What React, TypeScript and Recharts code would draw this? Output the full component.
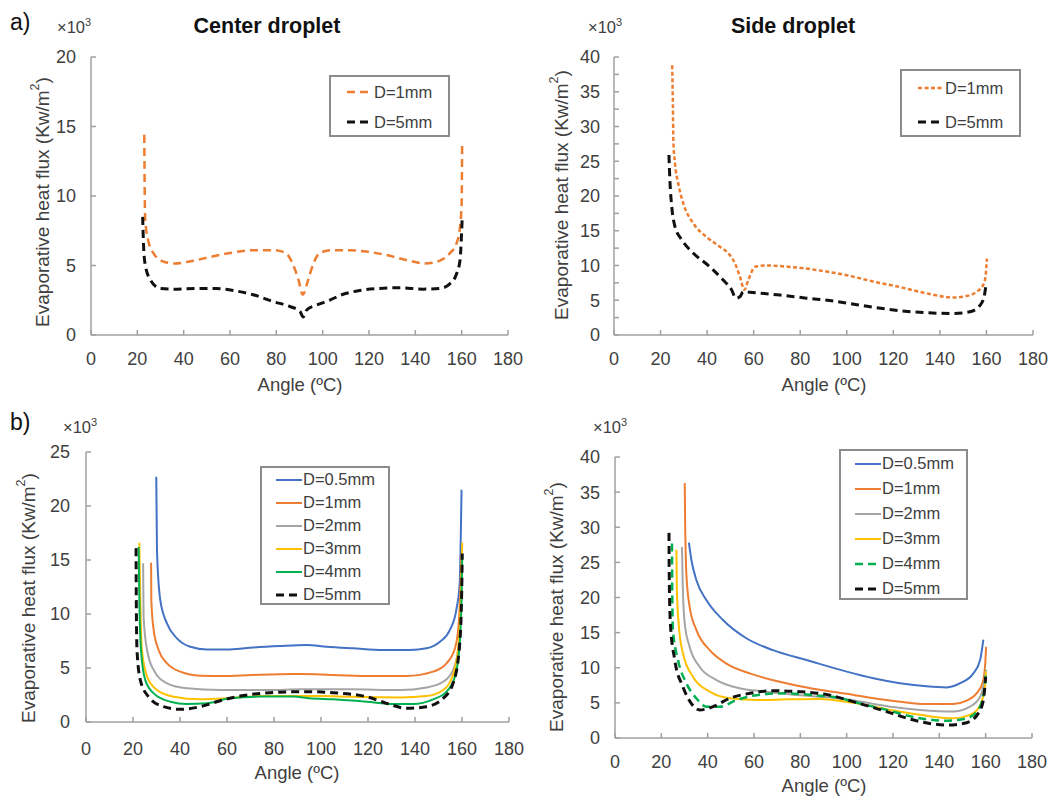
import { LineChart, Line, XAxis, YAxis, Legend } from 'recharts';

type Pt = [number, number];

const FONT = '"Liberation Sans", Arial, sans-serif';
const TEXT = '#404040';
const AXIS = '#a0a0a0';

const ORANGE = '#ED7D31';
const BLUE = '#4472C4';
const GRAY = '#A5A5A5';
const GOLD = '#FFC000';
const GREEN = '#00B050';
const BLACK = '#111111';

const xTicks = [0, 20, 40, 60, 80, 100, 120, 140, 160, 180];
const yTicksCenter = [0, 5, 10, 15, 20];
const yTicksSide = [0, 2.5, 5, 7.5, 10, 12.5, 15, 17.5, 20, 22.5, 25, 27.5, 30, 32.5, 35, 37.5, 40];
const yTicksB1 = [0, 5, 10, 15, 20, 25];
const yTicksB2 = [0, 5, 10, 15, 20, 25, 30, 35, 40];

// a) center droplet
const centerD1: Pt[] = [[23, 14.4], [23.2, 10], [23.4, 8.3], [24.7, 6.8], [26.9, 5.9], [31, 5.3], [36, 5.15], [43, 5.3], [51, 5.6], [60, 5.9], [70, 6.1], [79, 6.1], [84, 5.9], [87, 5.15], [89.5, 4.0], [91.4, 2.9], [93.8, 4.0], [96, 5.15], [98.8, 5.9], [104, 6.1], [112, 6.1], [119, 6.0], [127.6, 5.75], [136, 5.4], [144, 5.15], [150.6, 5.35], [155, 5.9], [157.8, 6.6], [159.3, 7.8], [160, 9.5], [160.2, 13.9]];
const centerD5: Pt[] = [[22.3, 8.5], [22.6, 6.8], [23.3, 5.15], [25.5, 4.0], [29.8, 3.35], [35.5, 3.3], [45, 3.35], [54, 3.35], [61.4, 3.2], [70, 2.9], [78.7, 2.4], [85.9, 2.05], [90.2, 1.7], [91.6, 1.3], [93.1, 1.8], [97.4, 2.15], [103, 2.5], [107.5, 2.85], [116, 3.2], [124.7, 3.35], [133.4, 3.4], [143.4, 3.3], [150.6, 3.35], [155, 3.7], [157.8, 4.4], [159.3, 5.4], [160.2, 8.3]];

// a) side droplet
const sideD1: Pt[] = [[25, 38.8], [25.3, 33], [25.5, 28.1], [26.2, 24.7], [27.6, 21.8], [29.8, 18.9], [34, 16.1], [39.8, 14.1], [45.5, 12.7], [49.8, 11.5], [52, 10.3], [54.1, 8.4], [56, 6.5], [57.7, 7.9], [60.5, 9.8], [65.6, 10.0], [75.6, 9.8], [88, 9.3], [100, 8.6], [111.3, 7.7], [122.8, 6.9], [134.3, 6.0], [145.7, 5.4], [151.4, 5.6], [155.7, 6.2], [158.6, 7.2], [159.6, 8.4], [160.2, 11.0]];
const sideD5: Pt[] = [[23.6, 25.9], [24, 22.3], [24.8, 18.5], [26.2, 15.6], [29.1, 13.7], [34, 11.8], [41.2, 9.8], [46.9, 7.9], [50.5, 6.5], [52.4, 5.3], [54.1, 5.5], [55.5, 6.2], [59.8, 6.1], [71.3, 5.75], [82.7, 5.3], [94.2, 4.9], [100, 4.6], [111.3, 4.0], [122.8, 3.5], [134.3, 3.2], [145.7, 3.1], [152.9, 3.35], [157.1, 4.2], [159, 5.5], [159.7, 6.95]];

// b) center droplet, all diameters
const bcD05: Pt[] = [[29.9, 22.7], [30.2, 15.9], [31.6, 11.3], [34.5, 9.1], [38.7, 7.75], [44.4, 6.97], [51.4, 6.72], [61.3, 6.72], [71.2, 6.9], [82.6, 7.04], [93.9, 7.13], [102.4, 6.97], [113.7, 6.82], [126.5, 6.67], [137.8, 6.67], [144.9, 6.82], [150.6, 7.43], [154.8, 8.5], [157.6, 10.4], [159, 12.8], [159.8, 21.5]];
const bcD1: Pt[] = [[27.7, 14.75], [27.8, 11.3], [28.8, 8.5], [30.9, 6.67], [34.5, 5.43], [40.1, 4.66], [48.6, 4.29], [59.9, 4.26], [74.1, 4.38], [88.2, 4.44], [98, 4.42], [105.2, 4.35], [119.4, 4.26], [136.4, 4.26], [147.7, 4.66], [153.4, 5.43], [157, 6.82], [158.6, 9.1], [159.5, 13.4], [159.8, 15.6]];
const bcD2: Pt[] = [[24.3, 14.7], [24.5, 9.75], [26, 6.67], [28.8, 4.81], [34.5, 3.58], [42.9, 3.12], [57.1, 2.96], [78.3, 2.96], [91.1, 3.03], [112.3, 3.03], [133.6, 2.96], [144.9, 3.2], [152, 3.73], [156.2, 4.81], [158.3, 6.67], [159.5, 10], [160, 14]];
const bcD3: Pt[] = [[22.7, 16.6], [23.1, 11.3], [23.8, 6.67], [26, 4.2], [30.2, 2.96], [37.3, 2.34], [48.6, 2.1], [59.9, 2.19], [74.1, 2.4], [88.2, 2.4], [100, 2.4], [112.3, 2.34], [133.6, 2.28], [144.9, 2.4], [152, 2.96], [155.9, 4.2], [158.3, 6.67], [159.5, 11.3], [160.1, 16.6]];
const bcD4: Pt[] = [[22.4, 16.2], [22.7, 11.3], [23.4, 6.67], [25.2, 3.9], [28.8, 2.65], [35.9, 1.88], [42.9, 1.67], [51.4, 1.73], [61.3, 2.19], [74.1, 2.35], [88.2, 2.35], [95, 2.2], [105.2, 2.1], [119.4, 1.88], [130.7, 1.67], [139.2, 1.67], [147.7, 2.1], [153.4, 2.81], [157, 4.2], [158.8, 6.67], [159.8, 11.3], [160.1, 15.5]];
const bcD5: Pt[] = [[21.3, 16.1], [21.4, 11.3], [21.7, 6.67], [23.1, 3.9], [26.6, 2.34], [33, 1.42], [40.1, 1.17], [48.6, 1.42], [57.1, 1.97], [65.6, 2.4], [78.3, 2.71], [93.9, 2.81], [105.2, 2.71], [119.4, 2.34], [127.9, 1.73], [136.4, 1.27], [144.9, 1.42], [152, 2.19], [156.2, 3.58], [158.8, 6.67], [159.8, 11.3], [160.1, 15.6]];

// b) side droplet, all diameters
const bsD05: Pt[] = [[31.9, 27.8], [33, 25.3], [35.1, 22.5], [39.5, 19.6], [46.6, 16.8], [56.7, 14.2], [68.2, 12.5], [82.7, 11.1], [100, 9.45], [111.5, 8.5], [123, 7.8], [134.5, 7.35], [143.2, 7.2], [149, 7.8], [154.7, 9.2], [157.6, 11.1], [159, 14.0]];
const bsD1: Pt[] = [[30.1, 36.3], [30.3, 30], [30.4, 28.2], [30.8, 23.4], [32.2, 18.7], [35.1, 15.4], [40.9, 12.5], [48.1, 10.6], [58.2, 9.2], [71.1, 8.0], [85.5, 7.0], [100, 6.3], [111.5, 5.65], [123, 5.17], [134.5, 4.84], [146, 4.84], [151.8, 5.31], [156.1, 6.36], [158.6, 7.78], [159.7, 10.1], [160.2, 13.0]];
const bsD2: Pt[] = [[28.9, 27.2], [29.3, 21.1], [30.1, 16.3], [32.2, 13.0], [36.6, 10.1], [43.8, 8.25], [53.8, 7.07], [65.4, 6.6], [79.8, 6.1], [88.4, 5.88], [100, 5.5], [110, 4.94], [120, 4.4], [131.6, 4.0], [146, 3.76], [153.2, 4.46], [157.6, 5.88], [159.7, 8.7], [160, 9.5]];
const bsD3: Pt[] = [[26.5, 26.8], [26.7, 21.1], [27.6, 15.8], [29.3, 12.1], [33.7, 8.7], [40.9, 6.6], [49.5, 5.65], [61.1, 5.4], [75.4, 5.5], [88, 5.55], [102.8, 5.0], [117.2, 4.1], [131.6, 3.3], [146, 2.8], [153.2, 3.3], [157.3, 4.46], [159.7, 7.3], [160.1, 9.5]];
const bsD4: Pt[] = [[24.6, 27.7], [24.7, 21.1], [25, 15.4], [27.2, 11.1], [30.8, 7.8], [35.1, 5.65], [39.5, 4.46], [45.2, 4.46], [52.4, 5.4], [61.1, 6.1], [72.6, 6.36], [85.5, 6.1], [97, 5.7], [102.8, 5.17], [117.2, 4.0], [131.6, 2.8], [143.2, 2.46], [151.8, 2.8], [156.8, 4.0], [159.4, 6.8], [160.2, 9.7]];
const bsD5: Pt[] = [[23.3, 29.2], [23.4, 23.4], [23.9, 16.3], [25.8, 11.1], [29.3, 7.3], [32.9, 4.94], [36.6, 4.0], [42.3, 4.46], [49.5, 5.65], [58.2, 6.36], [68.2, 6.73], [79.8, 6.6], [91.3, 6.2], [102.8, 5.17], [117.2, 3.76], [131.6, 2.33], [143.2, 1.85], [151.8, 2.18], [156.8, 3.5], [159, 5.4], [160, 8.7]];

interface Series {
  name: string;
  points: Pt[];
  color: string;
  width: number;
  dash?: string;
}

interface Box {
  l: number;
  t: number;
  w: number;
  h: number;
}

interface PanelProps {
  box: Box;
  plot: { l: number; r: number; t: number; b: number };
  yMax: number;
  yTicks: number[];
  series: Series[];
  legend: Box & { rowH: number; padTop: number; sampleLeft: number };
  yTitle: [number, number];
  xTitle: [number, number];
  xTickMargin: number;
  yTickMargin: number;
}

const toData = (pts: Pt[]) => pts.map(([x, y]) => ({ x, y }));

function LegendBox({ items, rowH, padTop, sampleLeft }: { items: Series[]; rowH: number; padTop: number; sampleLeft: number }) {
  return (
    <div
      style={{
        boxSizing: 'border-box',
        width: '100%',
        height: '100%',
        border: '2px solid #8c8c8c',
        background: '#fff',
        paddingTop: padTop,
        paddingLeft: sampleLeft,
        fontFamily: FONT,
        fontSize: 16.5,
        color: TEXT,
      }}
    >
      {items.map((s) => (
        <div key={s.name} style={{ display: 'flex', alignItems: 'center', height: rowH }}>
          <svg width={26} height={10} style={{ flex: 'none' }}>
            <line x1={0} y1={5} x2={26} y2={5} stroke={s.color} strokeWidth={s.width} strokeDasharray={s.dash} />
          </svg>
          <span style={{ marginLeft: 1, whiteSpace: 'nowrap' }}>{s.name}</span>
        </div>
      ))}
    </div>
  );
}

function Panel({ box, plot, yMax, yTicks, series, legend, yTitle, xTitle, xTickMargin, yTickMargin }: PanelProps) {
  const yAxisWidth = plot.l - box.l;
  const xAxisHeight = box.t + box.h - plot.b;
  const margin = { top: plot.t - box.t, right: box.l + box.w - plot.r, left: 0, bottom: 0 };
  const yx = yTitle[0] - box.l;
  const yy = yTitle[1] - box.t;
  const xx = xTitle[0] - box.l;
  const xy = xTitle[1] - box.t;

  return (
    <div style={{ position: 'absolute', left: box.l, top: box.t }}>
      <LineChart width={box.w} height={box.h} margin={margin}>
        <XAxis
          type="number"
          dataKey="x"
          domain={[0, 180]}
          ticks={xTicks}
          interval={0}
          stroke={AXIS}
          strokeWidth={1.5}
          tickSize={-5}
          tickMargin={xTickMargin}
          height={xAxisHeight}
          tick={{ fill: TEXT, fontSize: 18, fontFamily: FONT }}
          label={() => (
            <text x={xx} y={xy} textAnchor="middle" dominantBaseline="central" fontSize={18.5} fill={TEXT} fontFamily={FONT}>
              Angle (ºC)
            </text>
          )}
        />
        <YAxis
          type="number"
          domain={[0, yMax]}
          ticks={yTicks}
          interval={0}
          stroke={AXIS}
          strokeWidth={1.5}
          tickSize={-5}
          tickMargin={yTickMargin}
          width={yAxisWidth}
          tickFormatter={(v: number) => (v % 5 === 0 ? String(v) : '')}
          tick={{ fill: TEXT, fontSize: 18, fontFamily: FONT }}
          label={() => (
            <text
              x={yx}
              y={yy}
              transform={`rotate(-90, ${yx}, ${yy})`}
              textAnchor="middle"
              dominantBaseline="central"
              fontSize={19}
              fill={TEXT}
              fontFamily={FONT}
            >
              Evaporative heat flux (Kw/m
              <tspan fontSize={12.5} dy={-7}>2</tspan>
              <tspan dy={7}>)</tspan>
            </text>
          )}
        />
        <Legend
          layout="vertical"
          align="center"
          verticalAlign="middle"
          wrapperStyle={{ left: legend.l - box.l, top: legend.t - box.t, width: legend.w, height: legend.h }}
          content={() => (
            <LegendBox items={series} rowH={legend.rowH} padTop={legend.padTop} sampleLeft={legend.sampleLeft} />
          )}
        />
        {series.map((s) => (
          <Line
            key={s.name}
            name={s.name}
            data={toData(s.points)}
            dataKey="y"
            type="monotone"
            stroke={s.color}
            strokeWidth={s.width}
            strokeDasharray={s.dash}
            dot={false}
            activeDot={false}
            isAnimationActive={false}
          />
        ))}
      </LineChart>
    </div>
  );
}

export default function App() {
  return (
    <div style={{ position: 'absolute', left: 0, top: 0, width: 1051, height: 796, background: '#fff', overflow: 'hidden' }}>
      <Panel
        box={{ l: 0, t: 0, w: 525, h: 400 }}
        plot={{ l: 91, r: 508, t: 57, b: 335 }}
        yMax={20}
        yTicks={yTicksCenter}
        series={[
          { name: 'D=1mm', points: centerD1, color: ORANGE, width: 2.5, dash: '8 5' },
          { name: 'D=5mm', points: centerD5, color: BLACK, width: 3, dash: '8 5' },
        ]}
        legend={{ l: 329, t: 75, w: 121, h: 62, rowH: 30, padTop: 0, sampleLeft: 16 }}
        yTitle={[42, 202]}
        xTitle={[300, 384]}
        xTickMargin={22}
        yTickMargin={20}
      />
      <Panel
        box={{ l: 525, t: 0, w: 526, h: 400 }}
        plot={{ l: 614, r: 1033, t: 57, b: 335 }}
        yMax={40}
        yTicks={yTicksSide}
        series={[
          { name: 'D=1mm', points: sideD1, color: ORANGE, width: 2.5, dash: '4 2.5' },
          { name: 'D=5mm', points: sideD5, color: BLACK, width: 3, dash: '8 5' },
        ]}
        legend={{ l: 900, t: 69, w: 121, h: 68, rowH: 34, padTop: 0, sampleLeft: 16 }}
        yTitle={[561, 195]}
        xTitle={[824, 384]}
        xTickMargin={22}
        yTickMargin={19}
      />
      <Panel
        box={{ l: 0, t: 400, w: 525, h: 396 }}
        plot={{ l: 86, r: 509, t: 452, b: 722 }}
        yMax={25}
        yTicks={yTicksB1}
        series={[
          { name: 'D=0.5mm', points: bcD05, color: BLUE, width: 2 },
          { name: 'D=1mm', points: bcD1, color: ORANGE, width: 2 },
          { name: 'D=2mm', points: bcD2, color: GRAY, width: 2 },
          { name: 'D=3mm', points: bcD3, color: GOLD, width: 2 },
          { name: 'D=4mm', points: bcD4, color: GREEN, width: 2 },
          { name: 'D=5mm', points: bcD5, color: BLACK, width: 3, dash: '8 5' },
        ]}
        legend={{ l: 260, t: 466, w: 130, h: 139, rowH: 23, padTop: 0, sampleLeft: 14 }}
        yTitle={[28, 598]}
        xTitle={[297, 772]}
        xTickMargin={25}
        yTickMargin={21}
      />
      <Panel
        box={{ l: 525, t: 400, w: 526, h: 396 }}
        plot={{ l: 615, r: 1032, t: 457, b: 738 }}
        yMax={40}
        yTicks={yTicksB2}
        series={[
          { name: 'D=0.5mm', points: bsD05, color: BLUE, width: 2 },
          { name: 'D=1mm', points: bsD1, color: ORANGE, width: 2 },
          { name: 'D=2mm', points: bsD2, color: GRAY, width: 2 },
          { name: 'D=3mm', points: bsD3, color: GOLD, width: 2 },
          { name: 'D=4mm', points: bsD4, color: GREEN, width: 2.5, dash: '8 5' },
          { name: 'D=5mm', points: bsD5, color: BLACK, width: 3, dash: '8 5' },
        ]}
        legend={{ l: 839, t: 449, w: 129, h: 151, rowH: 25, padTop: 0, sampleLeft: 14 }}
        yTitle={[556, 607]}
        xTitle={[824, 785]}
        xTickMargin={22}
        yTickMargin={20}
      />
      <svg width={1051} height={796} style={{ position: 'absolute', left: 0, top: 0, pointerEvents: 'none' }} fontFamily={FONT}>
        <text x={10} y={30} fontSize={23} fill="#111">a)</text>
        <text x={10} y={430} fontSize={23} fill="#111">b)</text>
        <text x={267} y={33} fontSize={21.5} fontWeight="bold" fill="#111" textAnchor="middle">Center droplet</text>
        <text x={793} y={33} fontSize={21.5} fontWeight="bold" fill="#111" textAnchor="middle">Side droplet</text>
        <text x={57} y={33} fontSize={16.5} fill={TEXT}>×10<tspan fontSize={11} dy={-7}>3</tspan></text>
        <text x={588} y={33} fontSize={16.5} fill={TEXT}>×10<tspan fontSize={11} dy={-7}>3</tspan></text>
        <text x={63} y={433} fontSize={16.5} fill={TEXT}>×10<tspan fontSize={11} dy={-7}>3</tspan></text>
        <text x={593} y={433} fontSize={16.5} fill={TEXT}>×10<tspan fontSize={11} dy={-7}>3</tspan></text>
      </svg>
    </div>
  );
}
